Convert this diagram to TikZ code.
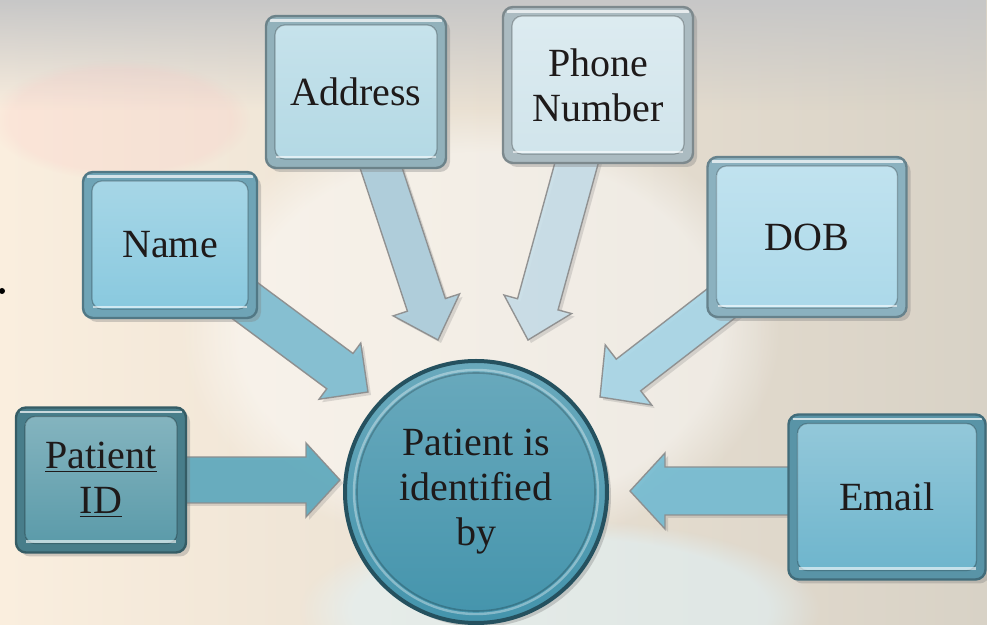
\documentclass[tikz,border=0pt]{standalone}
\usepackage{fontspec}
\setmainfont{Liberation Serif}
\usetikzlibrary{calc,shadows,fadings}
\pgfdeclarelayer{bg}
\pgfdeclarelayer{arr}
\pgfsetlayers{bg,arr,main}
\definecolor{bgL}{RGB}{250,238,222}
\definecolor{bgR}{RGB}{216,210,198}
\definecolor{txt}{RGB}{30,26,26}
\definecolor{pidC}{RGB}{88,153,168}
\definecolor{nameC}{RGB}{135,200,222}
\definecolor{addrC}{RGB}{178,216,228}
\definecolor{phoneC}{RGB}{208,228,235}
\definecolor{dobC}{RGB}{170,216,233}
\definecolor{emailC}{RGB}{108,180,204}
\definecolor{circC}{RGB}{68,148,172}
\definecolor{pidA}{RGB}{95,170,190}
\definecolor{nameA}{RGB}{128,190,210}
\definecolor{addrA}{RGB}{172,205,220}
\definecolor{phoneA}{RGB}{200,222,232}
\definecolor{dobA}{RGB}{168,214,231}
\definecolor{emailA}{RGB}{118,188,210}
\newcommand\bigfont{\fontsize{20}{22.5}\selectfont}
\newcommand\blockarrow[6][]{%
  \coordinate (bhx) at ($(#3)!#6!(#2)$);
  \path[blockarr,#1] ($(#2)!#4!90:(#3)$) -- ($(bhx)!#4!90:(#3)$) -- ($(bhx)!#5!90:(#3)$) -- (#3)
     -- ($(bhx)!#5!-90:(#3)$) -- ($(bhx)!#4!-90:(#3)$) -- ($(#2)!#4!-90:(#3)$) -- cycle;}
\tikzset{
  box/.style={rectangle, rounded corners=5pt, inner sep=0pt, align=center, font=\bigfont,
    text=txt, line width=1.2pt, drop shadow={opacity=0.35, shadow xshift=2pt, shadow yshift=-2pt}},
  boxfill/.style={fill=#1!82!black, draw=#1!60!black,
    path picture={
      \fill[top color=#1!72!white, bottom color=#1]
        ([shift={(4.5pt,-4.5pt)}]path picture bounding box.north west) rectangle
        ([shift={(-4.5pt,4.5pt)}]path picture bounding box.south east);
      \draw[black, opacity=0.25, line width=0.6pt]
        ([shift={(4.5pt,-4.5pt)}]path picture bounding box.north west) rectangle
        ([shift={(-4.5pt,4.5pt)}]path picture bounding box.south east);
      \draw[white, opacity=0.7, line width=1.3pt]
        ([shift={(2pt,-2.2pt)}]path picture bounding box.north west) --
        ([shift={(-2pt,-2.2pt)}]path picture bounding box.north east);
      \draw[white, opacity=0.6, line width=1.3pt]
        ([shift={(5pt,5.5pt)}]path picture bounding box.south west) --
        ([shift={(-5pt,5.5pt)}]path picture bounding box.south east);
    }},
  blockarr/.style={draw=black!45, line width=0.7pt, opacity=0.92,
    drop shadow={opacity=0.25, shadow xshift=1.5pt, shadow yshift=-1.5pt}},
}
\begin{document}
\begin{tikzpicture}[x=0.5pt,y=-0.5pt]
\useasboundingbox (0,0) rectangle (987,625);
% background
\begin{pgfonlayer}{bg}
\fill[left color=bgL, right color=bgR] (0,0) rectangle (987,625);
\fill[black!22, path fading=south] (0,0) rectangle (987,110);
\fill[red!25, opacity=0.18, path fading=circle with fuzzy edge 15 percent] (120,120) ellipse (130 and 60);
\fill[white, opacity=0.45, path fading=circle with fuzzy edge 20 percent] (480,330) ellipse (300 and 220);
\fill[cyan!12, opacity=0.5, path fading=circle with fuzzy edge 20 percent] (560,610) ellipse (260 and 90);
\fill[black] (2,291) circle (1.5pt);
\end{pgfonlayer}

% boxes
\node[box, boxfill=pidC, minimum width=85pt, minimum height=72.5pt] (pid) at (101,480) {\underline{Patient}\\\underline{ID}};
\node[box, boxfill=nameC, minimum width=87pt, minimum height=73pt] (name) at (170,245) {Name};
\node[box, boxfill=addrC, minimum width=90pt, minimum height=76pt] (addr) at (356,92) {Address};
\node[box, boxfill=phoneC, minimum width=95pt, minimum height=78pt] (phone) at (598,85) {Phone\\Number};
\node[box, boxfill=dobC, minimum width=99.5pt, minimum height=80pt] (dob) at (807,237) {DOB};
\node[box, boxfill=emailC, minimum width=98.5pt, minimum height=82.5pt] (email) at (887,497) {Email};

% centre circle
\node[circle, minimum size=131pt, inner sep=0pt, align=center, font=\bigfont, text=txt,
      top color=circC!80!white, bottom color=circC, draw=circC!55!black, line width=2pt,
      drop shadow={opacity=0.35, shadow xshift=2pt, shadow yshift=-2pt}] (c) at (476,492)
      {Patient is\\identified\\by};
\draw[white, opacity=0.35, line width=1.2pt] (c.center) circle (61pt);
\draw[black, opacity=0.2, line width=0.8pt] (c.center) circle (59.5pt);

% connectors
\coordinate (tPid) at (340,480);
\coordinate (tName) at (368,392);
\coordinate (tAddr) at (438,340);
\coordinate (tPhone) at (528,340);
\coordinate (tDob) at (600,397);
\coordinate (tEmail) at (630,491);
\coordinate (sEmail) at (email.center |- tEmail);
\begin{pgfonlayer}{arr}
\blockarrow[fill=pidA]{pid.center}{tPid}{11.5pt}{18.5pt}{17pt}
\blockarrow[fill=nameA]{name.center}{tName}{11pt}{17.5pt}{17.5pt}
\blockarrow[fill=addrA]{addr.center}{tAddr}{10pt}{17.5pt}{18.5pt}
\blockarrow[fill=phoneA]{phone.center}{tPhone}{10.5pt}{17.5pt}{18.5pt}
\blockarrow[fill=dobA]{dob.center}{tDob}{10pt}{19pt}{18pt}
\blockarrow[fill=emailA]{sEmail}{tEmail}{12pt}{19pt}{17.5pt}
\end{pgfonlayer}
\end{tikzpicture}
\end{document}
